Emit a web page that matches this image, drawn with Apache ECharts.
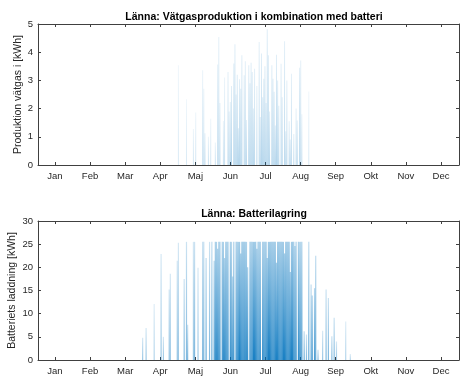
<!DOCTYPE html>
<html>
<head>
<meta charset="utf-8">
<script src="https://cdn.jsdelivr.net/npm/echarts@6/dist/echarts.min.js"></script>
<style>
  html, body { margin: 0; padding: 0; background: #fff; }
  #chart { width: 460px; height: 377px; }
</style>
</head>
<body>
<div id="chart"></div>
<script>
// manader (tick labels)
const months = ["Jan", "Feb", "Mar", "Apr", "Maj", "Jun", "Jul", "Aug", "Sep", "Okt", "Nov", "Dec"];
const ticksTop = [0, 1, 2, 3, 4, 5];
const ticksBottom = [0, 5, 10, 15, 20, 25, 30];

// vatgasproduktion [dag, kWh] (toppvarden per dag, avlasta fran bilden)
const hydrogen = [
  [107, 3.54], [114, 2.33], [120, 1.28], [122, 1.86], [128, 3.36], [129, 2.7], [130, 1.13],
  [133, 1.0], [135, 1.64], [139, 0.8], [141, 3.56], [142, 4.54], [143, 2.2], [146, 1.56],
  [147, 3.1], [150, 3.3], [151, 1.9], [152, 2.23], [153, 2.8], [155, 3.6], [156, 4.28],
  [157, 2.5], [158, 3.2], [159, 1.3], [160, 3.04], [161, 2.7], [162, 3.89], [164, 3.18],
  [165, 3.68], [166, 1.6], [168, 3.54], [169, 2.9], [170, 3.63], [171, 3.3], [172, 2.0],
  [173, 3.41], [175, 2.8], [177, 4.36], [178, 1.7], [179, 3.95], [180, 2.4], [181, 3.06],
  [182, 3.5], [183, 2.2], [184, 4.81], [185, 3.89], [186, 1.9], [188, 3.54], [189, 3.06],
  [190, 2.6], [191, 1.4], [192, 3.91], [193, 3.0], [194, 2.1], [196, 3.59], [197, 2.4],
  [199, 4.39], [200, 1.2], [201, 3.0], [203, 1.55], [204, 0.9], [205, 3.24], [207, 1.1],
  [209, 2.0], [210, 1.58], [212, 3.45], [213, 3.71], [214, 1.8], [220, 2.61]
];

// batteriets laddning [dag, kWh] (toppvarden per dag)
const battery = [
  [76, 4.8], [79, 6.9], [86, 12.1], [92, 22.9], [94, 5.0], [99, 15.2], [100, 18.6],
  [106, 21.4], [107, 25.3], [112, 17.5], [114, 25.5], [115, 7.6], [120, 25.5], [121, 25.5],
  [124, 19.9], [128, 25.5], [129, 25.5], [131, 22], [134, 25.5], [136, 25.5], [138, 21.4],
  [139, 25.5], [140, 25.5], [141, 24], [142, 25.5], [143, 25.5], [145, 25.5], [146, 25.5],
  [147, 22], [148, 25.5], [149, 25.5], [150, 25.5], [152, 25.5], [153, 25.5], [154, 18],
  [155, 25.5], [157, 25.5], [158, 25.5], [159, 25.5], [160, 25.5], [161, 23], [162, 25.5],
  [163, 25.5], [164, 25.5], [165, 25.5], [166, 25.5], [167, 20], [169, 25.5], [170, 25.5],
  [171, 25.5], [172, 25.5], [173, 25.5], [174, 25.5], [175, 24], [176, 25.5], [177, 25.5],
  [178, 25.5], [180, 25.5], [181, 25.5], [182, 25.5], [183, 25.5], [184, 22], [185, 25.5],
  [186, 25.5], [187, 25.5], [188, 25.5], [189, 25.5], [190, 25.5], [191, 25.5], [192, 21],
  [193, 25.5], [194, 25.5], [195, 25.5], [196, 25.5], [197, 25.5], [198, 25.5], [199, 23],
  [200, 25.5], [201, 25.5], [202, 25.5], [203, 25.5], [204, 19], [205, 25.5], [206, 25.5],
  [207, 25.5], [208, 24.6], [209, 25.5], [211, 25.5], [212, 25.5], [213, 25.5], [214, 25.5],
  [216, 6.2], [218, 5.5], [220, 25.5], [222, 16.3], [223, 13.9], [225, 15.5], [226, 22.5],
  [228, 2.2], [232, 6.3], [235, 15.2], [237, 13.4], [240, 5.1], [242, 9.1], [244, 4.0],
  [252, 8.3], [256, 1.3]
];

const monthLen = 365 / 12;
const monthTicks = months.map((m, i) => i * monthLen);
const axisColor = "#404040";
const textColor = "#262626";
const font = "Liberation Sans, Arial, Helvetica, sans-serif";

// tatare omraden ritas morkare (overlappande timmar i originalet)
function density(list, day) {
  return list.filter((d) => Math.abs(d[0] - day) <= 3).length;
}
function barColor(list, lo, step, hi, topFactor) {
  return (params) => {
    const n = density(list, params.data[0]);
    const a = Math.min(hi, lo + n * step);
    return new echarts.graphic.LinearGradient(0, 0, 0, 1, [
      { offset: 0, color: "rgba(0,114,189," + (a * topFactor).toFixed(2) + ")" },
      { offset: 1, color: "rgba(0,114,189," + a.toFixed(2) + ")" },
    ]);
  };
}

function xAxis(gridIndex, position, labels) {
  return {
    type: "value",
    gridIndex: gridIndex,
    position: position,
    min: -14.7,
    max: 350.2,
    axisLine: { show: true, onZero: false, lineStyle: { color: axisColor, width: 1 } },
    axisTick: { show: true, inside: true, length: 3, customValues: monthTicks, lineStyle: { color: axisColor } },
    axisLabel: {
      show: labels,
      customValues: monthTicks,
      margin: 6,
      color: textColor,
      fontFamily: font,
      fontSize: 9.5,
      formatter: (v) => months[Math.round(v / monthLen)],
    },
    splitLine: { show: false },
  };
}

function yAxis(gridIndex, position, max, interval, labels, name, gap) {
  return {
    type: "value",
    gridIndex: gridIndex,
    position: position,
    min: 0,
    max: max,
    interval: interval,
    name: name || "",
    nameLocation: "middle",
    nameGap: gap || 20,
    nameMoveOverlap: false,
    nameTextStyle: { color: textColor, fontFamily: font, fontSize: 10.5 },
    axisLine: { show: true, onZero: false, lineStyle: { color: axisColor, width: 1 } },
    axisTick: { show: true, inside: true, length: 3, lineStyle: { color: axisColor } },
    axisLabel: { show: labels, margin: 5, color: textColor, fontFamily: font, fontSize: 9.5 },
    splitLine: { show: false },
  };
}

const chart = echarts.init(document.getElementById("chart"), null, { renderer: "canvas" });
chart.setOption({
  animation: false,
  backgroundColor: "#fff",
  title: [
    {
      text: "Länna: Vätgasproduktion i kombination med batteri",
      left: 249, top: 7, textAlign: "center",
      textStyle: { fontFamily: font, fontSize: 10.5, fontWeight: "bold", color: "#000" },
    },
    {
      text: "Länna: Batterilagring",
      left: 249, top: 204, textAlign: "center",
      textStyle: { fontFamily: font, fontSize: 10.5, fontWeight: "bold", color: "#000" },
    },
  ],
  grid: [
    { left: 38, top: 24, width: 421, height: 141, outerBoundsMode: "none", containLabel: false },
    { left: 38, top: 221, width: 421, height: 139, outerBoundsMode: "none", containLabel: false },
  ],
  xAxis: [
    xAxis(0, "bottom", true),
    xAxis(0, "top", false),
    xAxis(1, "bottom", true),
    xAxis(1, "top", false),
  ],
  yAxis: [
    yAxis(0, "left", 5, 1, true, "Produktion vätgas i [kWh]", 14),
    yAxis(0, "right", 5, 1, false),
    yAxis(1, "left", 30, 5, true, "Batteriets laddning [kWh]", 20),
    yAxis(1, "right", 30, 5, false),
  ],
  series: [
    {
      type: "bar",
      xAxisIndex: 0,
      yAxisIndex: 0,
      barWidth: 1,
      data: hydrogen,
      itemStyle: { color: barColor(hydrogen, 0.12, 0.03, 0.45, 0.4) },
    },
    {
      type: "bar",
      xAxisIndex: 2,
      yAxisIndex: 2,
      barWidth: 1.2,
      data: battery,
      itemStyle: { color: barColor(battery, 0.2, 0.1, 0.95, 0.4) },
    },
  ],
});
</script>
</body>
</html>
